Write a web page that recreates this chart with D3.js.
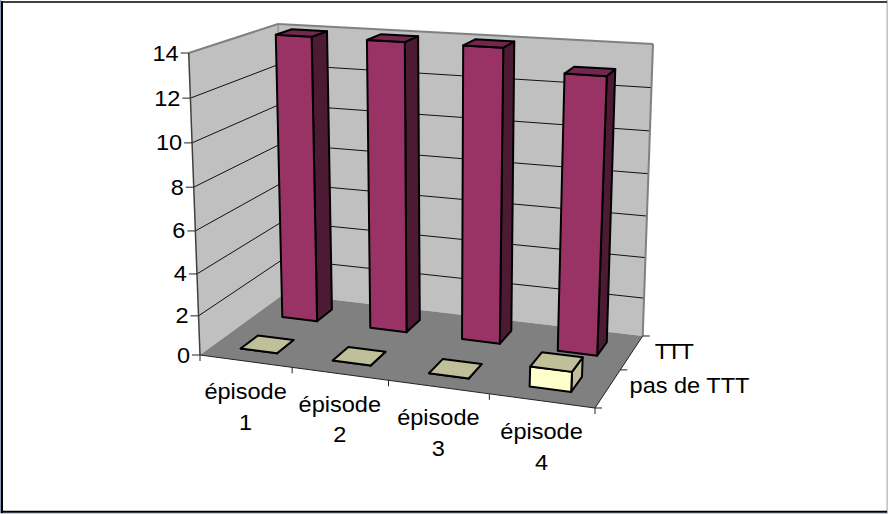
<!DOCTYPE html>
<html>
<head>
<meta charset="utf-8">
<script src="https://cdn.jsdelivr.net/npm/d3@7/dist/d3.min.js"></script>
<style>
html,body{margin:0;padding:0;background:#fff}
svg{display:block}
text{font-family:"Liberation Sans",Arial,sans-serif;fill:#000}
</style>
</head>
<body>
<svg id="chart" width="888" height="514"></svg>
<script>
const categories = [["épisode","1"],["épisode","2"],["épisode","3"],["épisode","4"]];
const seriesNames = ["pas de TTT","TTT"];
const pasDeTtt = [0,0,0,1];
const ttt = [14,14,14,13];
const valueTicks = [0,2,4,6,8,10,12,14];
const seriesColors = {
  "pas de TTT": {front:"#FFFFCC", top:"#BFBF99", side:"#BFBF99"},
  "TTT": {front:"#993366", top:"#732650", side:"#4D1A33"}
};

// Page positions of the box corners that calibrate the perspective view.
const floorCorners = [[200,355],[595,408],[284,294],[642.7,336]];
const ceilingCorners = [[188.7,53],[612,80],[278,24],[653,44]];

// Homography from the unit square (u across, v deep) to a page quadrilateral.
function planeMap([[x0,y0],[x1,y1],[x2,y2],[x3,y3]]){
  const dx1=x1-x3,dx2=x2-x3,dy1=y1-y3,dy2=y2-y3;
  const sx=x0-x1+x3-x2, sy=y0-y1+y3-y2;
  const den=dx1*dy2-dx2*dy1;
  const i=(sx*dy2-dx2*sy)/den, j=(dx1*sy-sx*dy1)/den;
  const a=x1-x0+i*x1, b=x2-x0+j*x2, e=y1-y0+i*y1, f=y2-y0+j*y2;
  return (u,v)=>{
    const d=i*u+j*v+1;
    return [(a*u+b*v+x0)/d,(e*u+f*v+y0)/d];
  };
}
const floorMap = planeMap(floorCorners);
const ceilingMap = planeMap(ceilingCorners);

// Height moves a point between its floor and ceiling positions.
const project = (u,v,w) => {
  const f=floorMap(u,v), c=ceilingMap(u,v);
  return [f[0]+(c[0]-f[0])*w, f[1]+(c[1]-f[1])*w];
};

const uScale = d3.scaleBand().domain(d3.range(categories.length)).range([0,1]);
const vScale = d3.scaleBand().domain(seriesNames).range([0,1]);
// The slight exponent spreads the upper values, as the raised viewpoint does.
const wScale = d3.scalePow().exponent(1.05).domain([0,14]).range([0,1]);
const barShare = 0.4;
const labelSize = 22;
const labelStretch = 1.07;

const svg = d3.select("#chart");
const poly = pts => "M"+pts.map(p=>p.map(n=>n.toFixed(2)).join(",")).join("L")+"Z";
const seg = (a,b,stroke,width) => svg.append("line")
  .attr("x1",a[0]).attr("y1",a[1]).attr("x2",b[0]).attr("y2",b[1])
  .attr("stroke",stroke).attr("stroke-width",width);
const label = (x,y,anchor,content) => svg.append("text")
  .attr("transform",`translate(${x},${y}) scale(${labelStretch},1)`)
  .attr("text-anchor",anchor).attr("font-size",labelSize).text(content);

// Chart frame
seg([0.5,0],[0.5,514],"#8E97B5",1);
seg([0,513.5],[888,513.5],"#C3C8DA",1);
seg([887.2,0],[887.2,514],"#C0C0C0",1.5);
seg([2,1],[2,513],"#000",2);
seg([1,2],[887,2],"#000",1.5);
seg([1,511.7],[887,511.7],"#000",2);

// Walls and floor
svg.append("path").attr("d",poly([project(0,0,0),project(0,1,0),project(0,1,1),project(0,0,1)])).attr("fill","#C0C0C0");
svg.append("path").attr("d",poly([project(0,1,0),project(1,1,0),project(1,1,1),project(0,1,1)])).attr("fill","#C0C0C0");
svg.append("path").attr("d",poly([project(0,0,0),project(1,0,0),project(1,1,0),project(0,1,0)])).attr("fill","#808080");

// Gridlines along both walls
valueTicks.slice(1,-1).forEach(t=>{
  const w=wScale(t);
  seg(project(0,0,w),project(0,1,w),"#111",1);
  seg(project(0,1,w),project(1,1,w),"#111",1);
});

// Wall outlines
seg(project(0,0,1),project(0,1,1),"#808080",2);
seg(project(0,1,1),project(1,1,1),"#808080",2);
seg(project(1,1,1),project(1,1,0),"#808080",2);
seg(project(0,1,1),project(0,1,0),"#808080",1);
seg(project(0,0,0),project(0,0,1),"#404040",1.5);
seg(project(0,0,0),project(1,0,0),"#222",1);
seg(project(1,0,0),project(1,1,0),"#222",1);

// Value axis ticks and labels
valueTicks.forEach(t=>{
  const p=project(0,0,wScale(t));
  seg([p[0]-8,p[1]],p,"#222",1);
  label(p[0]-10,p[1]+7.5,"end",t);
});

// Category ticks and labels
d3.range(categories.length+1).forEach(n=>{
  const p=project(n/categories.length,0,0);
  seg(p,[p[0],p[1]+6],"#222",1);
});
categories.forEach((lines,n)=>{
  const p=project(uScale(n)+uScale.bandwidth()/2,0,0);
  lines.forEach((line,l)=>label(p[0],p[1]+38+l*30.7,"middle",line));
});

// Series ticks and labels
d3.range(seriesNames.length+1).forEach(n=>{
  const p=project(1,n/seriesNames.length,0);
  seg(p,[p[0]+7,p[1]],"#222",1);
});
seriesNames.forEach(name=>{
  const p=project(1,vScale(name)+vScale.bandwidth()/2,0);
  const near=name!=="TTT";
  const t=label(p[0]+(near?81.5:42.5),p[1]+(near?5:7),"middle",name);
  if(!near) t.attr("textLength",36.5);
});

// Bars, back row first so the nearer row overlaps it
[["TTT",ttt],["pas de TTT",pasDeTtt]].forEach(([name,values])=>{
  const col=seriesColors[name];
  values.forEach((val,n)=>{
    const uw=uScale.bandwidth()*barShare, vw=vScale.bandwidth()*barShare;
    const u0=uScale(n)+(uScale.bandwidth()-uw)/2, u1=u0+uw;
    const v0=vScale(name)+(vScale.bandwidth()-vw)/2, v1=v0+vw;
    const h=wScale(val);
    const g=svg.append("g").attr("stroke","#000").attr("stroke-width",2).attr("stroke-linejoin","round");
    const face=(pts,fill)=>g.append("path").attr("d",poly(pts.map(q=>project(...q)))).attr("fill",fill);
    face([[u1,v0,0],[u1,v1,0],[u1,v1,h],[u1,v0,h]],col.side);
    face([[u0,v0,0],[u1,v0,0],[u1,v0,h],[u0,v0,h]],col.front);
    face([[u0,v0,h],[u1,v0,h],[u1,v1,h],[u0,v1,h]],col.top);
  });
});
</script>
</body>
</html>
